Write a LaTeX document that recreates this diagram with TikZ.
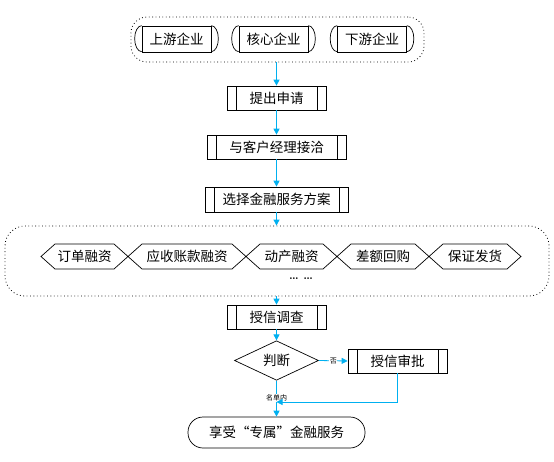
\documentclass[tikz,border=0pt]{standalone}
\usepackage{fontspec}
\newfontfamily\cjk{Noto Sans CJK SC}
\usetikzlibrary{arrows.meta,shapes.geometric}
\definecolor{arrowc}{HTML}{00B0F0}
\begin{document}
\begin{tikzpicture}[x=1pt,y=-1pt,
  every node/.style={font=\cjk\fontsize{13.5}{15}\selectfont, inner sep=0pt},
  lbl/.style={font=\cjk\fontsize{7}{8}\selectfont, fill=white, inner sep=0.5pt},
  proc/.style={draw, line width=0.7pt, minimum height=24pt,
    path picture={\draw[line width=0.7pt]
      ([xshift=9pt]path picture bounding box.north west) -- ([xshift=9pt]path picture bounding box.south west)
      ([xshift=-9pt]path picture bounding box.north east) -- ([xshift=-9pt]path picture bounding box.south east);}},
  firm/.style={draw, line width=0.7pt, minimum width=69pt, minimum height=26pt},
  group/.style={draw, line width=0.8pt, dash pattern=on 0.8pt off 2.6pt},
  hexa/.style={draw, line width=0.7pt},
  flow/.style={draw=arrowc, line width=0.8pt, -{Triangle[length=6pt,width=6pt]}},
]
\useasboundingbox (0,0) rectangle (554,461);

% top group
\node[group, rounded corners=16pt, minimum width=293pt, minimum height=45pt] (top) at (277.5,39.5) {};
\node[firm] (up) at (176.5,39) {上游企业};
\node[firm] (core) at (273.5,39) {核心企业};
\node[firm] (down) at (372,39) {下游企业};
\foreach \n in {up,core,down}{
  \draw[line width=0.7pt] (\n.north east) arc[start angle=90,end angle=-90,x radius=7pt,y radius=13pt];
  \draw[line width=0.7pt] (\n.north west) arc[start angle=90,end angle=270,x radius=7pt,y radius=13pt];
}

% process boxes
\node[proc, minimum width=99pt] (p1) at (276.5,98) {提出申请};
\node[proc, minimum width=139pt] (p2) at (276.5,147) {与客户经理接洽};
\node[proc, minimum width=143pt, minimum height=25pt] (p3) at (276.5,199.5) {选择金融服务方案};

% big group
\node[group, rounded corners=20pt, minimum width=544pt, minimum height=70pt] (big) at (277,261) {};
\foreach \l/\r in {41/128,128/246,246/337,337/429,429/521}{
  \draw[hexa] (\l,256.5) -- (\l+14,244) -- (\r-14,244) -- (\r,256.5) -- (\r-14,269) -- (\l+14,269) -- cycle;
}
\node (h1) at (84.5,256.5) {订单融资};
\node (h2) at (187,256.5) {应收账款融资};
\node (h3) at (291.5,256.5) {动产融资};
\node (h4) at (383,256.5) {差额回购};
\node (h5) at (475,256.5) {保证发货};
\node[font=\bfseries\fontsize{12}{12}\selectfont] (dots) at (301,279) {\dots\ \dots};

\node[proc, minimum width=99pt] (p4) at (276.5,317) {授信调查};
\node[diamond, draw, line width=0.7pt, minimum width=84pt, minimum height=25pt] (dec) at (276.5,360.5) {判断};
\node[proc, minimum width=99pt] (p5) at (397.5,361) {授信审批};
\node[draw, line width=0.7pt, rounded corners=15pt, minimum width=177pt, minimum height=31pt] (end) at (276.5,432.5) {享受“专属”金融服务};

% connectors
\draw[flow] (p1.north |- top.south) -- (p1.north);
\draw[flow] (p1.south) -- (p2.north);
\draw[flow] (p2.south) -- (p3.north);
\draw[flow] (p3.south) -- (p3.south |- big.north);
\draw[flow] (p4.north |- big.south) -- (p4.north);
\draw[flow] (p4.south) -- (dec.north);
\draw[flow] (dec.east) -- node[lbl] {否} (p5.west);
\draw[flow] (dec.south) -- node[lbl, pos=0.48] {名单内} (end.north);
\coordinate (m) at (dec.south |- 0,402);
\draw[flow] (p5.south) |- (m);
\end{tikzpicture}
\end{document}
